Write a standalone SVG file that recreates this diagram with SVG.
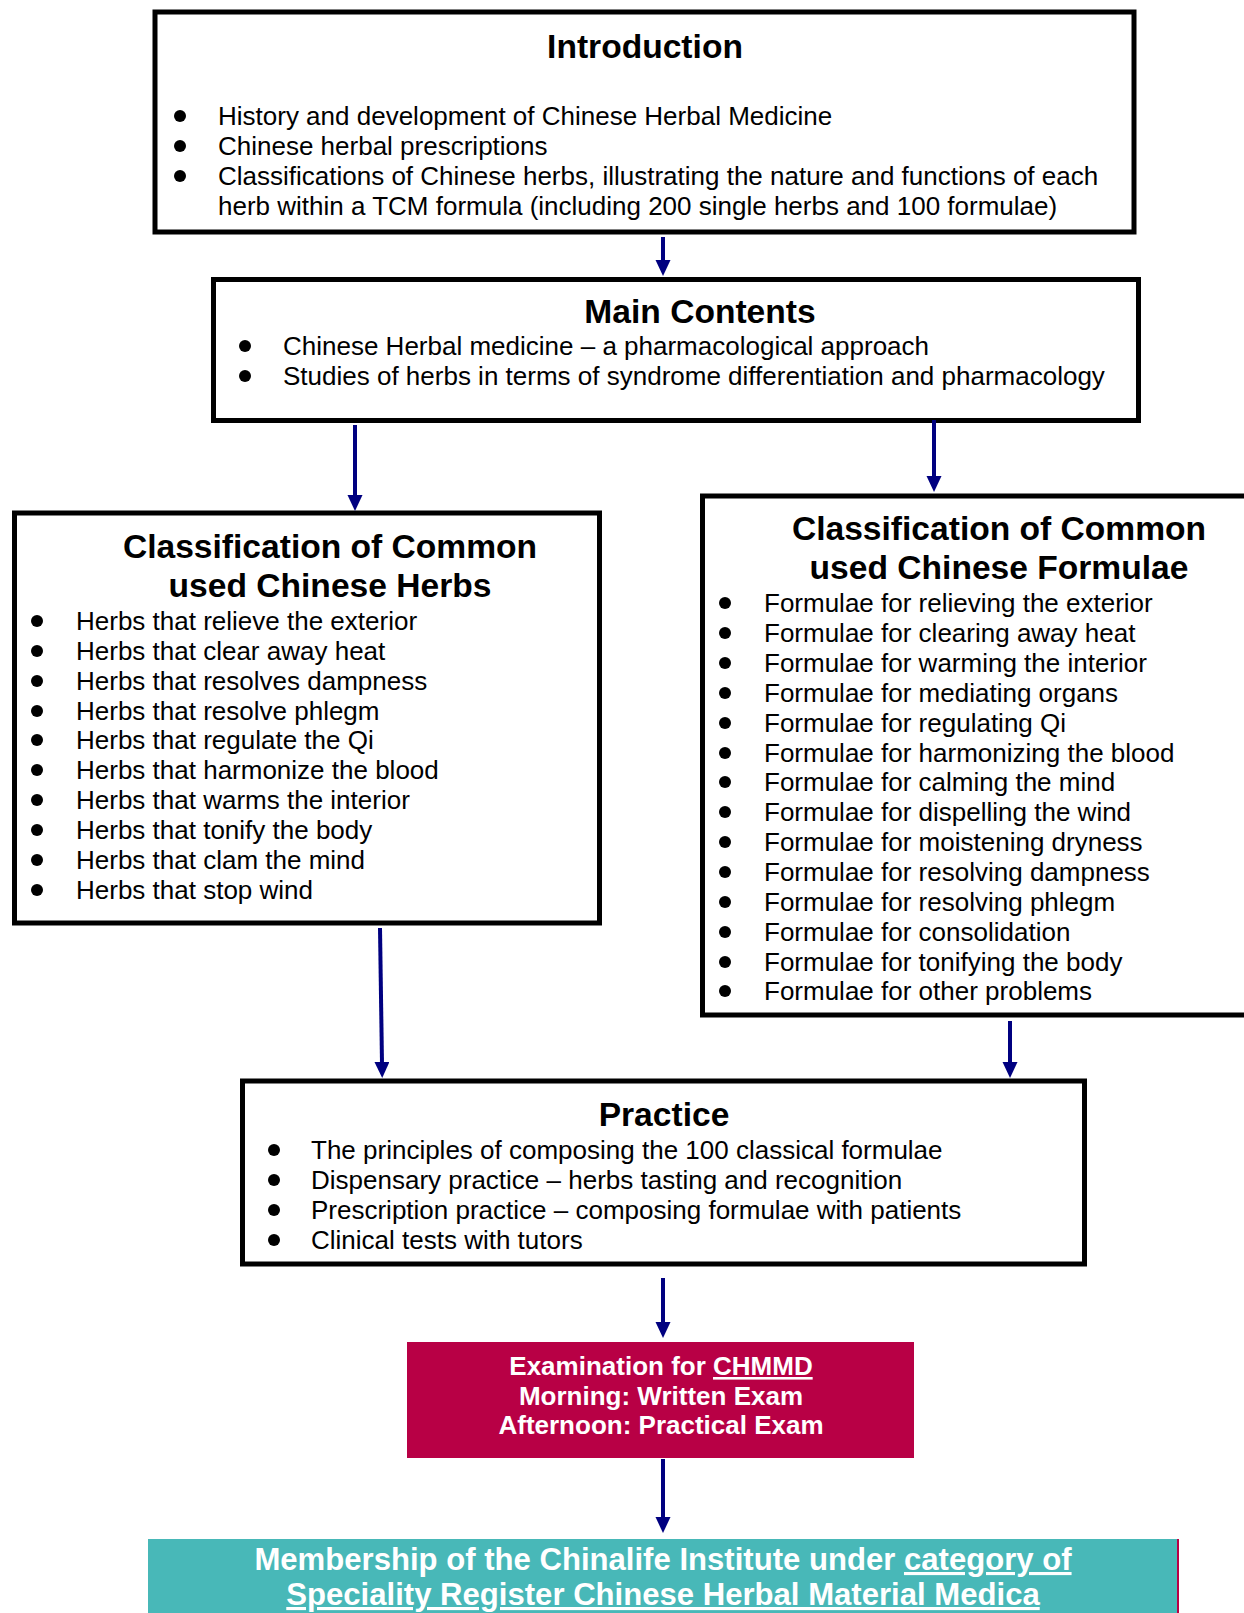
<svg xmlns="http://www.w3.org/2000/svg" width="1244" height="1613" viewBox="0 0 1244 1613">
<defs>
<style>
.box{fill:#fff;stroke:#000;stroke-width:5}
.t{font-family:"Liberation Sans",Arial,sans-serif;font-size:33.6px;font-weight:bold;fill:#000;text-anchor:middle}
.b{font-family:"Liberation Sans",Arial,sans-serif;font-size:26px;fill:#000}
.w{font-family:"Liberation Sans",Arial,sans-serif;font-weight:bold;fill:#fff;text-anchor:middle}
.dot{fill:#000}
.conn{stroke:#000080;stroke-width:4;fill:none}
</style>
<marker id="ah" markerWidth="16" markerHeight="16" refX="2" refY="7.5" orient="auto" markerUnits="userSpaceOnUse">
<path d="M0,0 L16,7.5 L0,15 z" fill="#000080"/>
</marker>
</defs>
<rect width="1244" height="1613" fill="#fff"/>

<g id="introduction">
<rect class="box" x="155" y="12" width="979" height="220"/>
<text class="t" x="645" y="58">Introduction</text>
<circle class="dot" cx="180" cy="116" r="6"/>
<circle class="dot" cx="180" cy="146" r="6"/>
<circle class="dot" cx="180" cy="176" r="6"/>
<text class="b" x="218" y="125">History and development of Chinese Herbal Medicine</text>
<text class="b" x="218" y="155">Chinese herbal prescriptions</text>
<text class="b" x="218" y="185">Classifications of Chinese herbs, illustrating the nature and functions of each</text>
<text class="b" x="218" y="215">herb within a TCM formula (including 200 single herbs and 100 formulae)</text>
</g>

<g id="main-contents">
<rect class="box" x="213.5" y="279.5" width="925" height="141"/>
<text class="t" x="700" y="323">Main Contents</text>
<circle class="dot" cx="245" cy="346" r="6"/>
<circle class="dot" cx="245" cy="376" r="6"/>
<text class="b" x="283" y="355">Chinese Herbal medicine – a pharmacological approach</text>
<text class="b" x="283" y="385">Studies of herbs in terms of syndrome differentiation and pharmacology</text>
</g>

<g id="herbs">
<rect class="box" x="14.5" y="513" width="585" height="410"/>
<text class="t" x="330" y="558">Classification of Common</text>
<text class="t" x="330" y="597">used Chinese Herbs</text>
<g class="dot">
<circle cx="37" cy="621" r="6"/><circle cx="37" cy="651" r="6"/><circle cx="37" cy="681" r="6"/><circle cx="37" cy="711" r="6"/><circle cx="37" cy="740" r="6"/>
<circle cx="37" cy="770" r="6"/><circle cx="37" cy="800" r="6"/><circle cx="37" cy="830" r="6"/><circle cx="37" cy="860" r="6"/><circle cx="37" cy="890" r="6"/>
</g>
<text class="b" x="76" y="630">Herbs that relieve the exterior</text>
<text class="b" x="76" y="660">Herbs that clear away heat</text>
<text class="b" x="76" y="690">Herbs that resolves dampness</text>
<text class="b" x="76" y="720">Herbs that resolve phlegm</text>
<text class="b" x="76" y="749">Herbs that regulate the Qi</text>
<text class="b" x="76" y="779">Herbs that harmonize the blood</text>
<text class="b" x="76" y="809">Herbs that warms the interior</text>
<text class="b" x="76" y="839">Herbs that tonify the body</text>
<text class="b" x="76" y="869">Herbs that clam the mind</text>
<text class="b" x="76" y="899">Herbs that stop wind</text>
</g>

<g id="formulae">
<rect class="box" x="702.5" y="496" width="600" height="519"/>
<text class="t" x="999" y="540">Classification of Common</text>
<text class="t" x="999" y="579">used Chinese Formulae</text>
<g class="dot">
<circle cx="725" cy="603" r="6"/><circle cx="725" cy="633" r="6"/><circle cx="725" cy="663" r="6"/><circle cx="725" cy="693" r="6"/><circle cx="725" cy="723" r="6"/>
<circle cx="725" cy="753" r="6"/><circle cx="725" cy="782" r="6"/><circle cx="725" cy="812" r="6"/><circle cx="725" cy="842" r="6"/><circle cx="725" cy="872" r="6"/>
<circle cx="725" cy="902" r="6"/><circle cx="725" cy="932" r="6"/><circle cx="725" cy="962" r="6"/><circle cx="725" cy="991" r="6"/>
</g>
<text class="b" x="764" y="612">Formulae for relieving the exterior</text>
<text class="b" x="764" y="642">Formulae for clearing away heat</text>
<text class="b" x="764" y="672">Formulae for warming the interior</text>
<text class="b" x="764" y="702">Formulae for mediating organs</text>
<text class="b" x="764" y="732">Formulae for regulating Qi</text>
<text class="b" x="764" y="762">Formulae for harmonizing the blood</text>
<text class="b" x="764" y="791">Formulae for calming the mind</text>
<text class="b" x="764" y="821">Formulae for dispelling the wind</text>
<text class="b" x="764" y="851">Formulae for moistening dryness</text>
<text class="b" x="764" y="881">Formulae for resolving dampness</text>
<text class="b" x="764" y="911">Formulae for resolving phlegm</text>
<text class="b" x="764" y="941">Formulae for consolidation</text>
<text class="b" x="764" y="971">Formulae for tonifying the body</text>
<text class="b" x="764" y="1000">Formulae for other problems</text>
</g>

<g id="practice">
<rect class="box" x="242.5" y="1081" width="842" height="183"/>
<text class="t" x="664" y="1126">Practice</text>
<circle class="dot" cx="274" cy="1150" r="6"/>
<circle class="dot" cx="274" cy="1180" r="6"/>
<circle class="dot" cx="274" cy="1210" r="6"/>
<circle class="dot" cx="274" cy="1240" r="6"/>
<text class="b" x="311" y="1159">The principles of composing the 100 classical formulae</text>
<text class="b" x="311" y="1189">Dispensary practice – herbs tasting and recognition</text>
<text class="b" x="311" y="1219">Prescription practice – composing formulae with patients</text>
<text class="b" x="311" y="1249">Clinical tests with tutors</text>
</g>

<g id="examination">
<rect x="407" y="1342" width="507" height="116" fill="#B80045"/>
<text class="w" x="661" y="1375" font-size="26px">Examination for <tspan text-decoration="underline">CHMMD</tspan></text>
<text class="w" x="661" y="1405" font-size="26px">Morning: Written Exam</text>
<text class="w" x="661" y="1434" font-size="26px">Afternoon: Practical Exam</text>
</g>

<g id="membership">
<rect x="148" y="1539" width="1030" height="80" fill="#48B8B8"/>
<line x1="1178" y1="1539" x2="1178" y2="1613" stroke="#B80045" stroke-width="2"/>
<text class="w" x="663" y="1570" font-size="31.1px">Membership of the Chinalife Institute under <tspan text-decoration="underline">category of</tspan></text>
<text class="w" x="663" y="1605" font-size="31.1px" text-decoration="underline">Speciality Register Chinese Herbal Material Medica</text>
</g>

<g id="connectors">
<line class="conn" x1="663" y1="237" x2="663" y2="262" marker-end="url(#ah)"/>
<line class="conn" x1="355" y1="425" x2="355" y2="497" marker-end="url(#ah)"/>
<line class="conn" x1="934" y1="420" x2="934" y2="478" marker-end="url(#ah)"/>
<line class="conn" x1="380" y1="928" x2="382" y2="1064" marker-end="url(#ah)"/>
<line class="conn" x1="1010" y1="1021" x2="1010" y2="1064" marker-end="url(#ah)"/>
<line class="conn" x1="663" y1="1278" x2="663" y2="1324" marker-end="url(#ah)"/>
<line class="conn" x1="663" y1="1459" x2="663" y2="1519" marker-end="url(#ah)"/>
</g>
</svg>
